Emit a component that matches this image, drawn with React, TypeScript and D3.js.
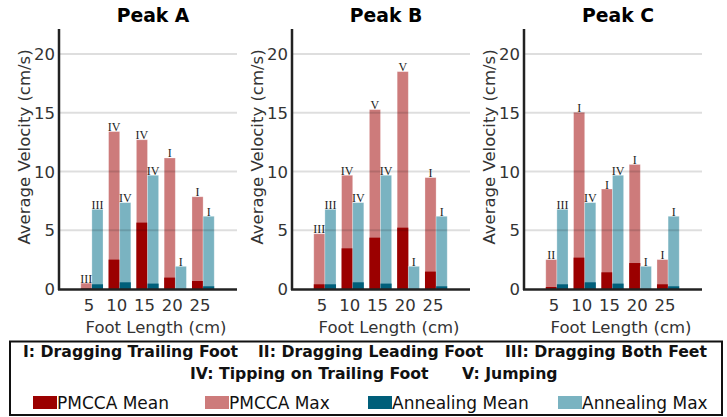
import React from "react";
import * as d3 from "d3";

const footLengths = ["5", "10", "15", "20", "25"];
const peaks = ["Peak A", "Peak B", "Peak C"];

const pmccaMaxA = [0.5, 13.4, 12.7, 11.15, 7.85];
const pmccaMeanA = [0.05, 2.5, 5.65, 0.97, 0.68];
const pmccaLabelsA = ["III", "IV", "IV", "I", "I"];

const pmccaMaxB = [4.7, 9.68, 15.27, 18.5, 9.48];
const pmccaMeanB = [0.4, 3.46, 4.37, 5.22, 1.48];
const pmccaLabelsB = ["III", "IV", "V", "V", "I"];

const pmccaMaxC = [2.5, 15.04, 8.51, 10.6, 2.5];
const pmccaMeanC = [0.17, 2.67, 1.42, 2.21, 0.4];
const pmccaLabelsC = ["II", "I", "I", "I", "I"];

const annealingMax = [6.78, 7.35, 9.68, 1.93, 6.19];
const annealingMean = [0.4, 0.57, 0.46, 0.02, 0.23];
const annealingLabels = ["III", "IV", "IV", "I", "I"];

const yTicks = [0, 5, 10, 15, 20];

const legendNotes = [
  "I: Dragging Trailing Foot",
  "II: Dragging Leading Foot",
  "III: Dragging Both Feet",
  "IV: Tipping on Trailing Foot",
  "V: Jumping",
];
const seriesNames = ["PMCCA Mean", "PMCCA Max", "Annealing Mean", "Annealing Max"];

const COLORS = {
  pmccaMean: "#9b0000",
  pmccaMax: "#cd7b7b",
  annMean: "#005f7a",
  annMax: "#7ab3c1",
};
const seriesColors = [COLORS.pmccaMean, COLORS.pmccaMax, COLORS.annMean, COLORS.annMax];

const panelData = [
  { max: pmccaMaxA, mean: pmccaMeanA, labels: pmccaLabelsA },
  { max: pmccaMaxB, mean: pmccaMeanB, labels: pmccaLabelsB },
  { max: pmccaMaxC, mean: pmccaMeanC, labels: pmccaLabelsC },
];

const FONT = "'DejaVu Sans', Verdana, sans-serif";
const SERIF = "'Liberation Serif', 'DejaVu Serif', serif";

const axisXs = [59, 292, 524];
const PLOT_W = 178;

function Panel({ idx }: { idx: number }) {
  const x0 = axisXs[idx];
  const d = panelData[idx];
  const y = d3.scaleLinear().domain([0, 22]).range([289, 30.5]);
  const xb = d3
    .scaleBand<string>()
    .domain(footLengths)
    .range([x0 + 19, x0 + 158])
    .paddingInner(0.2)
    .paddingOuter(0.1);
  const bw = xb.bandwidth() / 2;
  const right = x0 + PLOT_W;
  const cx = x0 + PLOT_W / 2;

  return (
    <g>
      <text x={cx + 5} y={22} textAnchor="middle" fontFamily={FONT} fontWeight="bold" fontSize={18.8} fill="#000">
        {peaks[idx]}
      </text>
      {footLengths.map((f, i) => {
        const bx = xb(f)!;
        return (
          <g key={f}>
            <rect x={bx} y={y(d.max[i])} width={bw} height={y(0) - y(d.max[i])} fill={COLORS.pmccaMax} stroke="#fff" strokeOpacity={0.35} strokeWidth={0.8} />
            <rect x={bx} y={y(d.mean[i])} width={bw} height={y(0) - y(d.mean[i])} fill={COLORS.pmccaMean} />
            <rect x={bx + bw} y={y(annealingMax[i])} width={bw} height={y(0) - y(annealingMax[i])} fill={COLORS.annMax} stroke="#fff" strokeOpacity={0.35} strokeWidth={0.8} />
            <rect x={bx + bw} y={y(annealingMean[i])} width={bw} height={y(0) - y(annealingMean[i])} fill={COLORS.annMean} />
          </g>
        );
      })}
      {yTicks.filter((t) => t > 0).map((t) => (
        <line key={t} x1={x0} x2={right} y1={y(t)} y2={y(t)} stroke="#000" strokeOpacity={0.13} strokeWidth={2} />
      ))}
      {footLengths.map((f, i) => {
        const bx = xb(f)!;
        return (
          <g key={"l" + f} fontFamily={SERIF} fontSize={12} fill="#222" textAnchor="middle">
            <text x={bx + bw / 2} y={y(d.max[i]) - 0.5}>{d.labels[i]}</text>
            <text x={bx + bw * 1.5} y={y(annealingMax[i]) - 0.5}>{annealingLabels[i]}</text>
          </g>
        );
      })}
      <line x1={x0} x2={x0} y1={29} y2={290} stroke="#222" strokeWidth={2.5} />
      <line x1={x0 - 1} x2={right} y1={289.5} y2={289.5} stroke="#222" strokeWidth={2.5} />
      {yTicks.map((t) => (
        <text key={t} x={x0 - 4} y={y(t) + 6} textAnchor="end" fontFamily={FONT} fontSize={16.5} fill="#333">
          {t}
        </text>
      ))}
      {footLengths.map((f) => (
        <text key={"t" + f} x={xb(f)! + xb.bandwidth() / 2 - 3} y={311} textAnchor="middle" fontFamily={FONT} fontSize={16.5} fill="#333">
          {f}
        </text>
      ))}
      <text x={cx + 8} y={333} textAnchor="middle" fontFamily={FONT} fontSize={16.5} fill="#333">
        Foot Length (cm)
      </text>
      <text transform={`translate(${x0 - 29.5},${147}) rotate(-90)`} textAnchor="middle" fontFamily={FONT} fontSize={16.5} fill="#333">
        Average Velocity (cm/s)
      </text>
    </g>
  );
}

const notePos = [
  [23, 357],
  [258, 357],
  [505, 357],
  [190, 379],
  [462, 379],
];
const swatchX = [33, 205, 368, 558];

export default function App() {
  return (
    <svg width={727} height={417} style={{ position: "absolute", left: 0, top: 0, background: "#fff" }}>
      <rect x={0} y={0} width={727} height={417} fill="#fff" />
      {peaks.map((p, i) => (
        <Panel key={p} idx={i} />
      ))}
      <rect x={10} y={341.5} width={712} height={73.5} fill="none" stroke="#111" strokeWidth={2} />
      {legendNotes.map((n, i) => (
        <text key={n} x={notePos[i][0]} y={notePos[i][1]} fontFamily={FONT} fontWeight="bold" fontSize={15.7} fill="#111">
          {n}
        </text>
      ))}
      {seriesNames.map((s, i) => (
        <g key={s}>
          <rect x={swatchX[i]} y={396} width={24} height={13} fill={seriesColors[i]} />
          <text x={swatchX[i] + 24} y={409} fontFamily={FONT} fontSize={17} fill="#111">
            {s}
          </text>
        </g>
      ))}
    </svg>
  );
}
